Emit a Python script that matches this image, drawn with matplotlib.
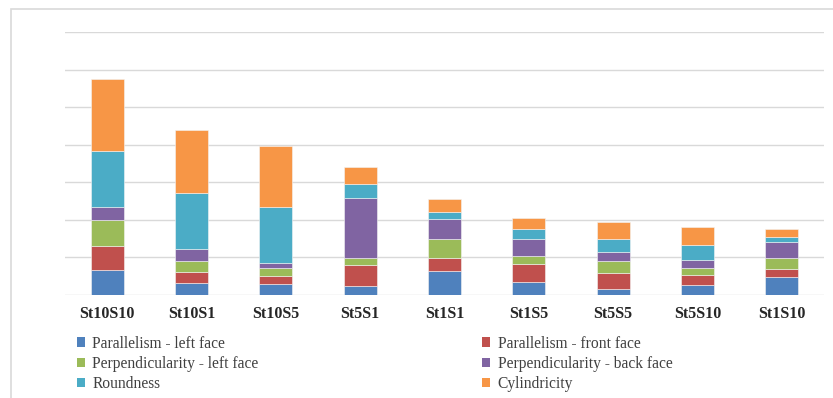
import matplotlib
matplotlib.use("Agg")
import matplotlib.pyplot as plt
from matplotlib.patches import Rectangle, Patch
import numpy as np

plt.rcParams['font.family'] = ['Liberation Serif', 'DejaVu Serif']

categories = ["St10S10", "St10S1", "St10S5", "St5S1", "St1S1",
              "St1S5", "St5S5", "St5S10", "St1S10"]

parallelism_left = [0.667, 0.304, 0.284, 0.240, 0.640, 0.338, 0.142, 0.258, 0.480]
parallelism_front = [0.622, 0.310, 0.204, 0.551, 0.329, 0.480, 0.427, 0.258, 0.213]
perpendicularity_left = [0.702, 0.277, 0.222, 0.196, 0.524, 0.204, 0.320, 0.196, 0.276]
perpendicularity_back = [0.338, 0.329, 0.124, 1.591, 0.524, 0.470, 0.258, 0.204, 0.427]
roundness = [1.502, 1.485, 1.493, 0.382, 0.187, 0.258, 0.347, 0.400, 0.142]
cylindricity = [1.911, 1.689, 1.636, 0.453, 0.347, 0.302, 0.453, 0.480, 0.204]

series_names = ["Parallelism - left face", "Parallelism - front face",
                "Perpendicularity - left face", "Perpendicularity - back face",
                "Roundness", "Cylindricity"]
series_values = [parallelism_left, parallelism_front, perpendicularity_left,
                 perpendicularity_back, roundness, cylindricity]
colors = ["#4F81BD", "#C0504D", "#9BBB59", "#8064A2", "#4BACC6", "#F79646"]

W, H = 833, 398
fig = plt.figure(figsize=(W / 100, H / 100), dpi=100)

# outer chart frame (left and top edges visible)
fig.add_artist(Rectangle((11 / W, -0.1), 1.2, (H - 8.7) / H + 0.1,
                         transform=fig.transFigure, fill=False,
                         edgecolor="#d9d9d9", linewidth=1.2))

left, right = 65 / W, 824 / W
bottom, top = (H - 294.7) / H, (H - 32.3) / H
ax = fig.add_axes([left, bottom, right - left, top - bottom])

x = np.arange(len(categories))
base = np.zeros(len(categories))
handles = []
for name, vals, col in zip(series_names, series_values, colors):
    vals = np.asarray(vals)
    ax.bar(x, vals, width=0.39, bottom=base, color=col,
           edgecolor="#f4f4f4", linewidth=0.4, zorder=3)
    base = base + vals
    handles.append(Patch(facecolor=col, edgecolor="none", label=name))

ax.set_xlim(-0.5, len(categories) - 0.5)
ax.set_ylim(0, 7)
ax.set_yticks(np.arange(0, 8, 1))
ax.yaxis.grid(True, color="#d9d9d9", linewidth=1.0, zorder=0)
ax.set_yticklabels([])
ax.tick_params(axis="y", length=0)
ax.set_xticks(x)
ax.set_xticklabels(categories, fontsize=11.5, fontweight="bold", color="#262626")
ax.tick_params(axis="x", length=0, pad=8)
for s in ax.spines.values():
    s.set_visible(False)

order = [0, 2, 4, 1, 3, 5]
leg = fig.legend([handles[i] for i in order], [series_names[i] for i in order],
                 ncol=2, loc="upper left", bbox_to_anchor=(76.5 / W, (H - 335.5) / H),
                 frameon=False, fontsize=11.2, borderpad=0, borderaxespad=0,
                 handlelength=0.52, handleheight=0.52, handletextpad=0.5,
                 labelspacing=0.27, columnspacing=14.35)
for t in leg.get_texts():
    t.set_color("#404040")

fig.savefig("out.png", dpi=100)
